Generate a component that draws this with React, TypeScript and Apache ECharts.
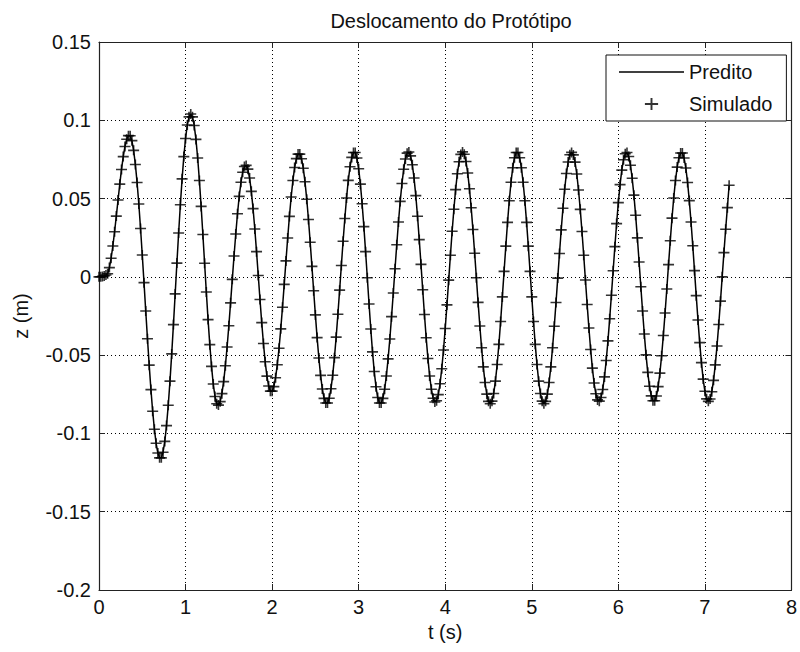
import React, { useEffect, useRef } from "react";
import * as echarts from "echarts";

// ---- data ----
const TITLE = "Deslocamento do Protótipo";
const X_NAME = "t (s)";
const Y_NAME = "z (m)";
const SERIES_NAMES = ["Predito", "Simulado"];
const X_TICKS = [0, 1, 2, 3, 4, 5, 6, 7, 8];
const Y_TICKS = [-0.2, -0.15, -0.1, -0.05, 0, 0.05, 0.1, 0.15];
const TIME_STEP_S = 0.02; // sample time of the displacement record

// displacement z in millimetres, one value per sample (t = 0 ... 7.28 s)
const Z_MM = [
  0, 0.1, 0.3, 0.6, 1.2, 2.0, 5.9, 11.9, 19.7, 28.8, 38.8, 49.1, 59.2, 68.6, 76.8, 83.3, 87.9, 90.2,
  90.1, 87.0, 80.8, 71.8, 60.3, 46.5, 30.9, 14.0, -3.7, -21.8, -39.5, -56.4, -72.0, -85.8, -97.3, -106.3, -112.5, -115.6,
  -115.6, -112.0, -105.1, -95.0, -82.0, -66.6, -49.2, -30.5, -10.9, 8.8, 28.0, 46.1, 62.6, 76.8, 88.4, 97.0, 102.2,
  104.0, 102.2, 96.7, 87.8, 75.9, 61.5, 45.0, 27.1, 8.7, -9.7, -27.3, -43.3, -57.2, -68.4, -76.4, -81.0,
  -81.9, -79.7, -74.6, -66.9, -56.8, -44.8, -31.2, -16.6, -1.6, 13.3, 27.4, 40.3, 51.4, 60.4, 66.8, 70.5,
  71.2, 68.8, 63.1, 54.6, 43.6, 30.6, 16.1, 0.9, -14.5, -29.2, -42.6, -54.2, -63.4, -69.7, -73.0,
  -73.0, -70.1, -64.4, -56.1, -45.6, -33.2, -19.4, -4.8, 10.2, 24.8, 38.6, 51.0, 61.5, 69.8, 75.5, 78.4,
  78.4, 75.4, 69.4, 60.7, 49.6, 36.6, 22.1, 6.7, -8.9, -24.3, -38.8, -51.8, -62.9, -71.6, -77.6, -80.6,
  -80.6, -77.5, -71.5, -62.8, -51.6, -38.5, -23.9, -8.5, 7.3, 22.7, 37.3, 50.4, 61.6, 70.3, 76.3, 79.4,
  79.4, 75.9, 69.0, 59.2, 46.7, 32.1, 16.1, -0.6, -17.3, -33.3, -47.9, -60.4, -70.2, -77.1, -80.6,
  -80.6, -77.6, -71.8, -63.3, -52.4, -39.7, -25.4, -10.3, 5.2, 20.5, 35.0, 48.2, 59.6, 68.7, 75.3, 79.0,
  79.7, 77.3, 71.6, 63.1, 51.9, 38.7, 23.8, 8.0, -8.2, -24.0, -38.9, -52.1, -63.3, -71.8, -77.5, -79.9,
  -79.1, -75.2, -68.3, -58.7, -46.7, -33.0, -17.9, -2.1, 13.8, 29.1, 43.2, 55.7, 65.9, 73.5, 78.2, 79.8,
  78.3, 73.7, 66.3, 56.3, 44.1, 30.2, 15.1, -0.6, -16.3, -31.4, -45.3, -57.5, -67.5, -74.9, -79.5,
  -81.0, -79.4, -74.5, -66.6, -56.0, -43.1, -28.5, -12.8, 3.5, 19.6, 34.8, 48.6, 60.4, 69.7, 76.1, 79.4,
  79.4, 76.1, 69.7, 60.4, 48.6, 34.8, 19.6, 3.5, -12.8, -28.5, -43.1, -56.0, -66.6, -74.5, -79.4,
  -81.0, -79.5, -74.9, -67.5, -57.5, -45.3, -31.5, -16.4, -0.8, 14.9, 30.0, 43.8, 56.0, 66.0, 73.4, 78.0, 79.5,
  77.9, 73.3, 65.7, 55.5, 43.1, 29.0, 13.8, -2.0, -17.7, -32.7, -46.4, -58.3, -67.8, -74.7, -78.6,
  -79.4, -77.1, -71.9, -63.9, -53.4, -40.9, -26.8, -11.7, 3.9, 19.3, 34.0, 47.4, 58.9, 68.2, 74.8, 78.6,
  79.4, 76.9, 71.3, 63.0, 52.2, 39.3, 24.9, 9.5, -6.3, -21.8, -36.5, -49.8, -61.0, -69.9, -76.0, -79.1,
  -79.1, -76.1, -70.1, -61.5, -50.4, -37.5, -23.1, -7.8, 7.8, 23.1, 37.5, 50.4, 61.5, 70.1, 76.1, 79.1,
  79.1, 75.9, 69.5, 60.3, 48.7, 35.0, 19.9, 4.0, -12.0, -27.6, -42.0, -54.8, -65.3, -73.1, -77.9,
  -79.5, -78.0, -73.4, -66.1, -56.2, -44.2, -30.4, -15.5, 0.0, 15.5, 30.4, 44.2, 58.5,
];

const FONT = "'Liberation Sans', Arial, Helvetica, sans-serif";
const PLUS = "path://M0,4.2H11V5.8H0Z M4.7,0H6.3V10H4.7Z";
const LINE_ICON = "path://M0,0H65V1.5H0Z";

export default function App() {
  const ref = useRef<HTMLDivElement>(null);

  useEffect(() => {
    if (!ref.current) return;
    const chart = echarts.init(ref.current, null, { renderer: "svg" });

    const points = Z_MM.map((z, i) => [Number((i * TIME_STEP_S).toFixed(2)), z / 1000]);

    const xMin = X_TICKS[0];
    const xMax = X_TICKS[X_TICKS.length - 1];
    const xInt = X_TICKS[1] - X_TICKS[0];
    const yMin = Y_TICKS[0];
    const yMax = Y_TICKS[Y_TICKS.length - 1];
    const yInt = 0.05;

    const dotted = { color: "#000", width: 1, type: [1, 3] as any };
    const frame = { show: true, onZero: false, lineStyle: { color: "#222", width: 1.2 } };
    const tick = { show: true, inside: true, length: 6, lineStyle: { color: "#222", width: 1 } };

    chart.setOption({
      animation: false,
      backgroundColor: "#fff",
      title: {
        text: TITLE,
        left: 446,
        top: 6,
        textAlign: "center",
        textStyle: { fontFamily: FONT, fontSize: 20, fontWeight: "normal", color: "#111" },
      },
      grid: { left: 99, right: 7, top: 42, bottom: 62, containLabel: false },
      legend: {
        orient: "vertical",
        left: 606,
        top: 55,
        padding: [7, 14, 7, 13],
        itemGap: 12,
        itemWidth: 65,
        itemHeight: 12,
        borderColor: "#111",
        borderWidth: 1,
        borderRadius: 0,
        backgroundColor: "#fff",
        textStyle: { fontFamily: FONT, fontSize: 20, color: "#111" },
        data: [
          { name: SERIES_NAMES[0], icon: LINE_ICON },
          { name: SERIES_NAMES[1], icon: PLUS },
        ],
      },
      xAxis: [
        {
          type: "value",
          min: xMin,
          max: xMax,
          interval: xInt,
          position: "bottom",
          name: X_NAME,
          nameLocation: "middle",
          nameGap: 31,
          nameTextStyle: { fontFamily: FONT, fontSize: 20, color: "#111" },
          axisLine: frame,
          axisTick: tick,
          axisLabel: {
            fontFamily: FONT,
            fontSize: 20,
            color: "#111",
            margin: 7,
            formatter: (v: number) => String(v),
          },
          splitLine: { show: true, lineStyle: dotted },
        },
        {
          type: "value",
          min: xMin,
          max: xMax,
          interval: xInt,
          position: "top",
          axisLine: frame,
          axisTick: tick,
          axisLabel: { show: false },
          splitLine: { show: false },
        },
      ],
      yAxis: [
        {
          type: "value",
          min: yMin,
          max: yMax,
          interval: yInt,
          position: "left",
          name: Y_NAME,
          nameLocation: "middle",
          nameGap: 68,
          nameTextStyle: { fontFamily: FONT, fontSize: 20, color: "#111" },
          axisLine: frame,
          axisTick: tick,
          axisLabel: {
            fontFamily: FONT,
            fontSize: 20,
            color: "#111",
            margin: 8,
            formatter: (v: number) => String(Math.round(v * 100) / 100),
          },
          splitLine: { show: true, lineStyle: dotted },
        },
        {
          type: "value",
          min: yMin,
          max: yMax,
          interval: yInt,
          position: "right",
          axisLine: frame,
          axisTick: tick,
          axisLabel: { show: false },
          splitLine: { show: false },
        },
      ],
      series: [
        {
          name: SERIES_NAMES[0],
          type: "line",
          data: points,
          symbol: "none",
          lineStyle: { color: "#000", width: 1.5 },
          itemStyle: { color: "#000" },
          z: 2,
        },
        {
          name: SERIES_NAMES[1],
          type: "scatter",
          data: points,
          symbol: PLUS,
          symbolSize: [11, 10],
          symbolKeepAspect: false,
          itemStyle: { color: "#000" },
          z: 3,
        },
      ],
    });

    return () => chart.dispose();
  }, []);

  return (
    <div
      ref={ref}
      style={{ position: "absolute", left: 0, top: 0, width: 800, height: 652, background: "#fff" }}
    />
  );
}
